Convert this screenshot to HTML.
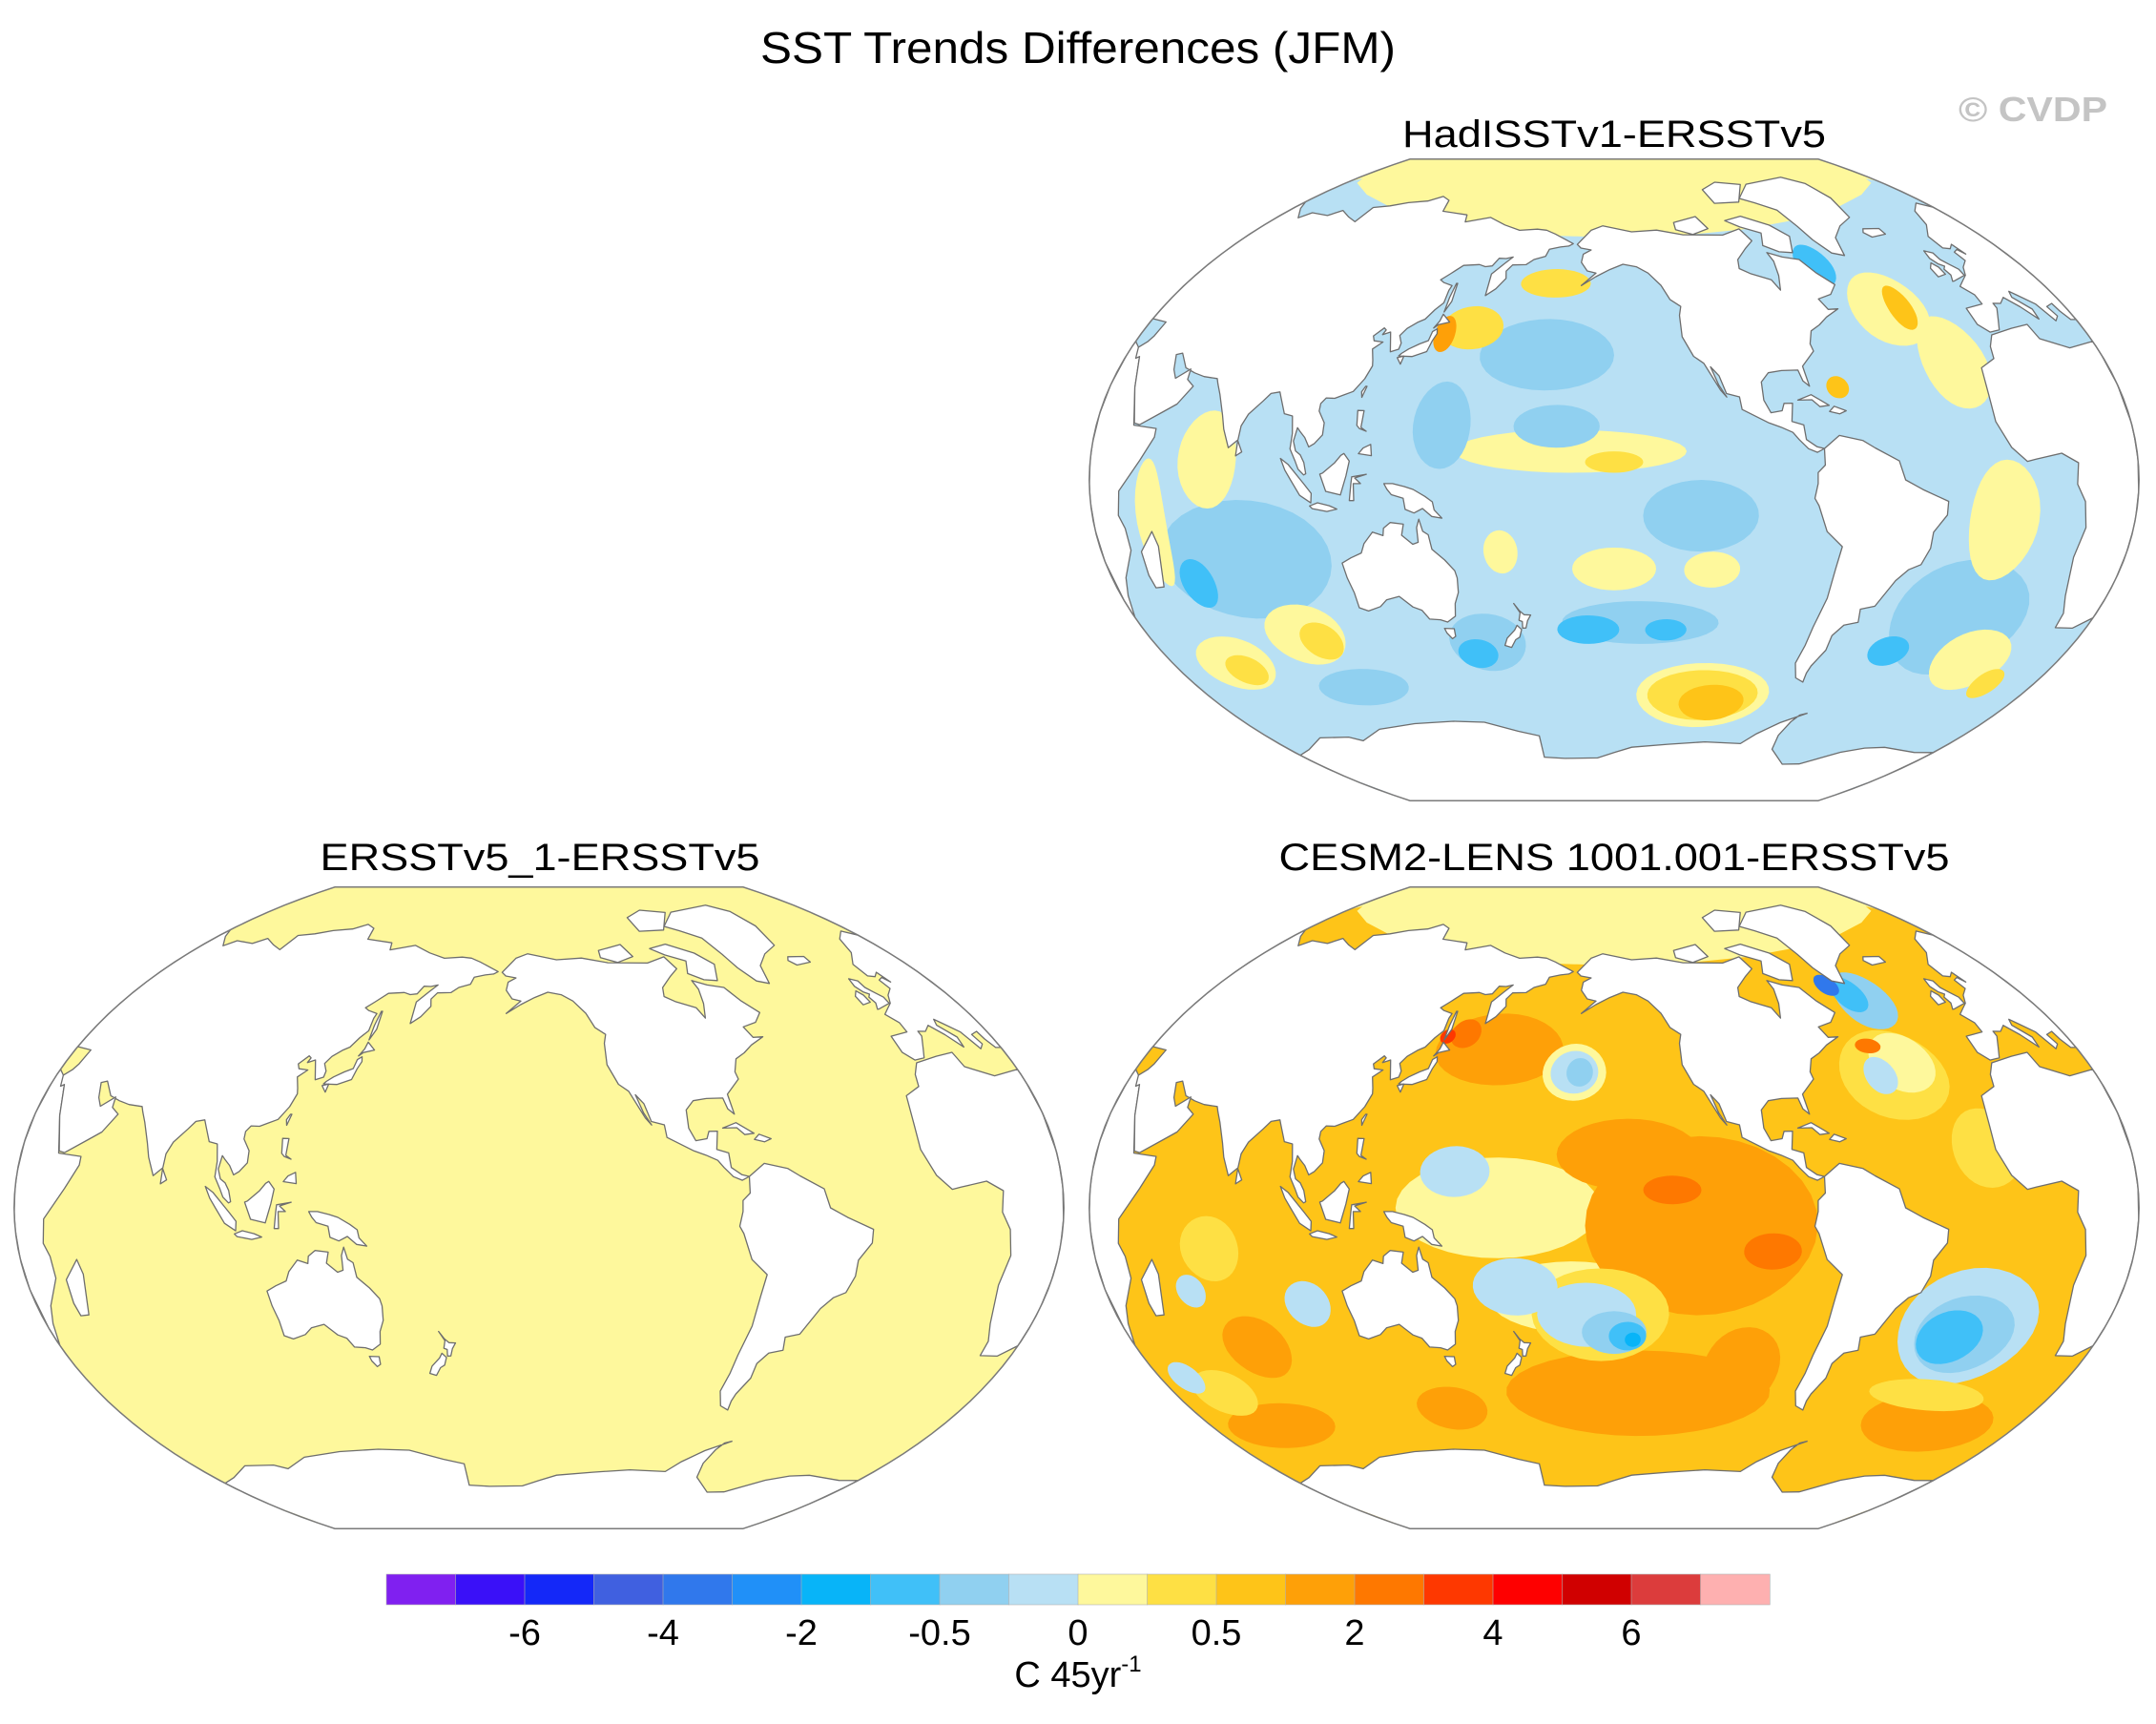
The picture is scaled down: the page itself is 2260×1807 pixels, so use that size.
<!DOCTYPE html>
<html><head><meta charset="utf-8"><title>SST Trends Differences (JFM)</title>
<style>
html,body{margin:0;padding:0;background:#fff;}
svg{display:block;font-family:"Liberation Sans",Arial,sans-serif;}
</style></head>
<body>
<svg id="fig" width="2260" height="1807" viewBox="0 0 2260 1807" xmlns="http://www.w3.org/2000/svg">
<text x="1130" y="66" font-size="46" text-anchor="middle" textLength="666" lengthAdjust="spacingAndGlyphs">SST Trends Differences (JFM)</text>
<text x="2131" y="127" font-size="36" font-weight="bold" fill="#c4c4c4" text-anchor="middle" textLength="156" lengthAdjust="spacingAndGlyphs">© CVDP</text>
<text x="1692" y="154" font-size="40" text-anchor="middle" textLength="444" lengthAdjust="spacingAndGlyphs">HadISSTv1-ERSSTv5</text>
<text x="566" y="912" font-size="40" text-anchor="middle" textLength="461" lengthAdjust="spacingAndGlyphs">ERSSTv5_1-ERSSTv5</text>
<text x="1692" y="912" font-size="40" text-anchor="middle" textLength="703" lengthAdjust="spacingAndGlyphs">CESM2-LENS 1001.001-ERSSTv5</text>
<g id="maps"></g>
<g id="colorbar"></g>
<text x="1130" y="1768" font-size="38" text-anchor="middle">C 45yr<tspan font-size="24" dy="-16">-1</tspan></text>
</svg>
<script>
// ---- colour scale ----
const levels=[-7,-6,-5,-4,-3,-2,-1,-0.5,-0.25,0,0.25,0.5,1,2,3,4,5,6,7];
const colors=["#8020f0","#3a10f8","#1428f8","#4060e0","#3078ec","#2090f8","#08b4f8","#40c0f8","#90d0f0","#b8e0f4","#fef89c","#fee044","#fec418","#fea008","#fe7800","#fe3800","#fe0000","#d00000","#dc3c3c","#feb0b0"];
const tickLabels=["-6","-4","-2","-0.5","0","0.5","2","4","6"];
const tickIndex=[2,4,6,8,10,12,14,16,18];

// ---- HadISST blobs ----
const hadLon=[210,-175,155,145,-175,-165,-150,150,-150,-115,170,-140,-160,-130,-110,-110,-105,160,155,80,70,50,90,95,55,57,60,100,-40,-25,-60,-35,-70,-20,-15,-5,10,-40,-120,-170];
const hadLat=[90,35,42,40,55,8,5,15,-25,-25,-20,-40,-42,-42,-60,-60,-62,-45,-48,-20,5,-10,-40,-42,-45,-47,-25,-55,45,30,58,45,25,-35,-10,-45,-50,-45,-10,15];
const hadRlon=[200,25,12,4,15,40,10,10,15,10,6,30,12,8,30,25,15,15,8,30,10,5,15,8,15,8,6,20,15,12,8,5,4,25,12,15,6,8,20,15];
const hadRlat=[22,10,6,5,4,6,3,12,6,5,6,6,4,3,9,7,5,8,4,15,12,15,8,5,7,4,6,5,10,12,6,6,3,15,15,8,4,4,10,6];
const hadVal=[0.1,-0.4,0.4,1.5,0.4,0.1,0.4,-0.4,0.1,0.1,0.1,-0.4,-0.75,-0.75,0.1,0.4,0.75,-0.4,-0.75,-0.4,0.1,0.1,0.1,0.4,0.1,0.4,-0.75,-0.4,0.1,0.1,-0.75,0.75,0.75,-0.4,0.1,0.1,0.4,-0.75,-0.4,-0.4];

// ---- CESM2 blobs ----
const cesLon=[210,170,-165,-120,-145,-140,-100,165,140,60,75,-130,-95,150,143,-155,155,175,-160,-150,-145,-143,-165,-165,-163,70,60,100,50,40,-45,-40,-50,-40,-45,-52,-50,-20,-20,-20,-25,-10,-20];
const cesLat=[90,0,-25,-5,15,-52,-45,44,-55,-55,-35,5,-12,48,47,-30,10,-22,-30,-35,-36,-37,38,38,38,-10,-20,-25,-45,-40,35,38,35,55,57,60,43,15,-30,-32,-33,-55,-48];
const cesRlon=[200,35,30,40,25,55,15,25,15,25,12,10,10,6,3,25,12,15,18,12,7,3,12,9,5,10,5,8,12,6,20,12,6,12,7,5,5,12,25,18,12,30,25];
const cesRlat=[22,14,10,25,10,12,12,10,6,6,8,4,5,4,2,13,7,8,9,6,4,2,8,6,4,8,4,6,6,4,12,8,5,8,5,3,2,10,15,10,7,8,4];
const cesVal=[0.1,0.1,0.1,1.5,1.5,1.5,1.5,1.5,1.5,1.5,1.5,2.5,2.5,2.5,3.5,0.4,-0.1,-0.1,-0.1,-0.4,-0.75,-1.5,0.1,-0.1,-0.4,0.4,-0.1,-0.1,0.4,-0.1,0.4,0.1,-0.1,-0.4,-0.75,-3.5,2.5,0.4,-0.1,-0.4,-0.75,1.5,0.4];

// ---- ERSST blobs (uniform small positive) ----
const ersLon=[], ersLat=[], ersRlon=[], ersRlat=[], ersVal=[];

// ---- land outlines (lon, lat) ----
const land={
 northAmerica:[[-168,66],[-162,70],[-156,71.3],[-141,69.6],[-128,70],[-115,68.5],[-95,68],[-85,69.5],[-82,66],[-87,64],[-93,61],[-94,58.5],[-90,57],[-82,55],[-80,52],[-78,56],[-77,60],[-78,62.5],[-72,61],[-65,60],[-61,56],[-56,52.5],[-60,50],[-66,49],[-64,46],[-60,46],[-66,44],[-70,42],[-74,40.5],[-76,37],[-75.5,35],[-81,31],[-80,25.5],[-82,27],[-83,30],[-89,30],[-94,29.5],[-97,27],[-97,22],[-95,18.5],[-91,19],[-90,21],[-87,21],[-88,16],[-84,15],[-83.5,11],[-80,9],[-77.5,8.5],[-80,7.5],[-83,8.5],[-86,11],[-88,13],[-92,14.5],[-96,15.7],[-105,19.5],[-105.5,23],[-110,24],[-112,29],[-114.7,31.5],[-112.5,26.5],[-110,23],[-112,25],[-114,28],[-117,32.5],[-120.5,34.5],[-124,40],[-124,46],[-123,48.5],[-127,50.5],[-130,54.5],[-135,58],[-140,59.8],[-146,60.5],[-152,59],[-158,57],[-164,54.5],[-158,58],[-162,58.6],[-165,61],[-164.5,63.3],[-161,64.5],[-166,65]],
 greenland:[[-73,78],[-60,82],[-30,83.5],[-20,81],[-18,76],[-22,70],[-32,68],[-40,65],[-43,60],[-48,61],[-52,65],[-54,69],[-57,74],[-66,76.5]],
 baffin:[[-80,73],[-68,70],[-62,66.5],[-66,62],[-72,62.5],[-78,64.5],[-75,68],[-84,70],[-90,72]],
 ellesmere:[[-90,77],[-75,77],[-64,82],[-80,83],[-92,81]],
 victoria:[[-118,72],[-105,73.5],[-101,70],[-110,68.5],[-118,70]],
 southAmerica:[[-77.5,8.5],[-72,12],[-64,10.5],[-60,8.5],[-52,5],[-50,0],[-44,-2.5],[-35,-5.5],[-35,-9],[-39,-13.5],[-39,-17.7],[-41,-22],[-45,-23.5],[-48.5,-26.5],[-53,-33.5],[-58,-34.5],[-57,-38],[-62,-39],[-65,-42],[-65,-46],[-68,-50.5],[-68.5,-52.5],[-68,-55],[-72,-54],[-75,-50],[-74,-45],[-73.5,-40],[-71.5,-32],[-71,-24],[-70,-18],[-76,-14],[-79.5,-7],[-81,-5],[-80,-1],[-80,2],[-77.5,4]],
 africa:[[-17,21],[-16,28],[-10,30],[-9,33],[-6,35.8],[3,36.8],[10,37.2],[11,33.5],[20,30.5],[30,31.2],[32.5,30],[35,28],[39,21],[43,12.5],[51,12],[51,10],[47,4.5],[40,-2.5],[39,-8],[40.5,-11],[40.5,-16],[35,-22],[32.5,-26],[30,-31],[25,-34],[18.5,-34.5],[18,-31],[15,-27],[12,-18],[13.5,-11],[12,-5],[9,-1],[9.5,4],[4,6.3],[-5,5],[-8,4.5],[-13,8],[-17,14.5]],
 madagascar:[[44,-25],[47,-25],[50.5,-15.5],[49.5,-12],[44,-16.5],[43.5,-22]],
 eurasia:[[-9,43],[-9,38.7],[-6,36.5],[-2,36.8],[0,39],[3,42],[3,43.3],[6,43],[9,44.3],[12.5,41.5],[16,38],[16.5,40.5],[12.5,44],[13.5,45.5],[15,44.5],[19.5,41.5],[22,37],[24,38],[23,40.5],[26,41],[26.5,39],[28,36.7],[36,36.5],[35.5,33],[34.5,31.5],[32.5,30],[34,27.5],[35,28],[39,21],[43,13],[45,12.7],[52,16],[56,18],[59.5,22.5],[56.5,24],[56,26.5],[52,24],[50,26],[48,29.5],[50,30],[54,26.7],[58,25.7],[62,25],[67,24.8],[68,23.5],[70,21],[73,16],[74.5,12.5],[77,8],[80,10],[80.3,13.5],[82,16.5],[86,20],[88,22],[91,22.5],[92,21],[94.5,17],[97.5,16.5],[98.5,12],[98.3,8],[100.3,5],[101.5,2.8],[103.5,1.3],[104.2,1.6],[103.4,4.5],[102,6.5],[100.3,7.5],[99.2,10],[100,13.5],[101,12.6],[103,11],[104.7,8.6],[106.5,9.5],[109,11.8],[109,15],[106.5,18],[106.5,20],[108,21.5],[111,21.5],[114,22.5],[117,23.5],[120,27],[121.5,30.5],[121,32],[119.5,35],[122.5,37],[119,37.2],[118,38.5],[121,40.8],[122,40.3],[121.3,39],[124,39.8],[125,37.8],[126.5,34.5],[129.3,35.3],[129.5,37],[128,39],[129.8,41],[133,42.8],[135.5,43.8],[138,46.5],[140.5,48.5],[140.5,52],[141,53.3],[137,54],[135,54.7],[138,56.5],[142,59],[149,59.5],[152,59],[155,59.3],[156.8,61.5],[160,61.5],[163,62],[160,60],[156,57],[156.5,51],[160,53],[163,56],[162,58],[164,59.8],[170,60],[173,61.5],[178,62.5],[179,64.5],[184,65.2],[188,65.5],[190,66.2],[187,67],[180,68.8],[175,69.8],[170,70],[161,69.5],[152,70.8],[142,72.7],[130,71],[128,73],[113,73.5],[110,76.7],[104,77.7],[98,76],[88,75],[80,73.5],[72,72.5],[72.5,68],[66,69],[58,70.5],[54,68.5],[44,68.5],[41,66.5],[34,69],[25,71],[17,69],[12,65],[5,62],[5,58.5],[8,58],[11,59],[12,56],[10.5,57.5],[8,57],[8.5,54.5],[4.5,53],[2,51],[-1.5,49.7],[-4.5,48.5],[-1.5,46],[-1.5,43.5]],
 britain:[[-5,50],[1.5,51],[1.7,52.7],[-0.5,54.5],[-2,55.8],[-2,57.7],[-5,58.6],[-6,56.5],[-4.8,54.8],[-3,54],[-4.5,53.3],[-4,51.6],[-5.7,50]],
 ireland:[[-6,52],[-6,54],[-7.5,55.3],[-10,54],[-10,51.6]],
 iceland:[[-22,64],[-14,64.3],[-14,66],[-22,66.5],[-24,65.5]],
 honshu:[[130,33.5],[135,33.5],[140,35],[141,38],[142,40],[141.5,41.3],[140,40.5],[139.5,38],[136.5,37],[133,35.5],[130.8,34.2]],
 kyushu:[[129.7,33],[131.5,31.3],[132,33.5]],
 hokkaido:[[140,41.5],[141.5,42.5],[145.5,43.3],[142,45.4],[141.5,43.5]],
 sakhalin:[[142,46],[143.5,49],[143,54],[142.5,54],[142,50]],
 taiwan:[[120.5,22],[121.5,25],[121,25],[120,23.5]],
 luzon:[[120,18.5],[122.2,18.5],[122,14],[124,13],[121.5,13.7],[120.5,14.5]],
 mindanao:[[122,7],[126.5,6.5],[126,9.5],[123.5,8.5]],
 borneo:[[109,1.5],[111,-3],[116,-4],[118,1],[119,5],[117,7],[116,6.5],[114,4.5],[110,1.8]],
 sumatra:[[95.3,5.5],[98,4],[103.5,-1],[106,-3.5],[105.7,-6],[102,-4],[99,0],[97,2.5]],
 java:[[105.2,-6.8],[108,-6],[112,-6.8],[114.5,-7.7],[111,-8.3],[106,-7.5]],
 sulawesi:[[119,-5.5],[120.5,-5.5],[120.5,-1],[123,-1],[121,0.5],[125,1.5],[120,0.8],[119.7,-1]],
 newGuinea:[[131,-1],[134,-1],[138,-1.8],[141,-2.6],[145,-4.5],[147.5,-6],[148,-8.2],[150.5,-10.5],[147,-10],[144,-7.8],[141,-9],[138,-8],[137.5,-5],[133.5,-4],[132,-2.5]],
 australia:[[113.5,-22],[114,-26],[115,-30],[115,-34],[118,-35],[123,-34],[126,-32.3],[131,-31.5],[135,-34.5],[138,-35.5],[140,-38],[144,-38.3],[146.5,-39],[150,-37.5],[151,-34],[153,-31],[153.5,-27],[153,-25],[150,-22],[146,-19],[145.3,-15],[143.5,-14],[142.5,-10.7],[141.5,-13],[141.5,-17],[139.5,-17.5],[136,-15],[137,-12],[132.5,-11.5],[130,-13],[129.5,-15],[126,-14],[122.5,-17],[121,-19.5],[117,-20.7]],
 tasmania:[[144.6,-40.7],[148.3,-40.9],[148,-43],[146.5,-43.6],[145,-42]],
 nzNorth:[[172.7,-34.4],[174.5,-36.5],[176,-37.6],[178.5,-37.7],[177,-39.3],[176,-41.3],[174.7,-41.3],[175,-39.5],[173.8,-39.1],[174.6,-37]],
 nzSouth:[[172.7,-40.5],[174.2,-41.7],[173,-43.8],[171.2,-44.5],[169,-46.6],[166.5,-46],[168,-44],[171.5,-41.8]],
 sriLanka:[[79.8,6],[81.8,7],[80,9.8]],
 cuba:[[-85,21.8],[-80,23.2],[-74.2,20.2],[-77.5,19.9],[-80,21.8]],
 hispaniola:[[-74.4,18.5],[-72.5,19.9],[-68.5,18.6],[-71,17.8]],
 antarctica:[[-180,-78],[-160,-78],[-150,-76.5],[-140,-75],[-120,-74],[-100,-73],[-80,-73],[-75,-70],[-67,-66.5],[-57,-63.3],[-60,-64],[-62,-66],[-63,-70],[-60,-74],[-45,-78],[-35,-77.5],[-20,-73],[-10,-71],[0,-70],[20,-70],[40,-69],[55,-66.5],[70,-67.5],[75,-69],[90,-66.5],[110,-66],[130,-66.2],[145,-67],[160,-70],[170,-71.5],[168,-77.5],[180,-78],[180,-90],[-180,-90]]
};

const NS="http://www.w3.org/2000/svg";
const LON0=210, K=214, C1=2/Math.PI, D=Math.PI/180;
function wk(lam,phi){
  const a=Math.acos(Math.cos(phi)*Math.cos(lam/2));
  const s=a<1e-9?1:Math.sin(a)/a;
  return [0.5*(lam*C1+2*Math.cos(phi)*Math.sin(lam/2)/s), 0.5*(phi+Math.sin(phi)/s)];
}
function proj(m,dl,lat){
  dl=Math.max(-180,Math.min(180,dl)); lat=Math.max(-90,Math.min(90,lat));
  const p=wk(dl*D,lat*D);
  return [m.cx+K*p[0], m.cy-K*p[1]];
}
function polyPaths(m,pts,closed){
  if(closed===undefined) closed=true;
  const out=[];
  for(const k of [-720,-360,0,360,720]){
    const dl=pts.map(p=>p[0]-LON0+k);
    if(!dl.some(v=>v>=-180&&v<=180)) continue;
    if(dl.every(v=>v<=-180)||dl.every(v=>v>=180)) continue;
    let d="";
    pts.forEach((p,i)=>{const q=proj(m,dl[i],p[1]);d+=(i?"L":"M")+q[0].toFixed(1)+","+q[1].toFixed(1);});
    out.push(d+(closed?"Z":""));
  }
  return out.join("");
}
function colorOf(v){let i=0;while(i<levels.length&&v>=levels[i])i++;return colors[i];}
function el(tag,attrs,parent){const e=document.createElementNS(NS,tag);for(const a in attrs)e.setAttribute(a,attrs[a]);parent.appendChild(e);return e;}
function outline(m){
  let d="";const n=60;
  for(let i=0;i<=n;i++){const lat=-90+180*i/n;const q=proj(m,180,lat);d+=(i?"L":"M")+q[0].toFixed(1)+","+q[1].toFixed(1);}
  for(let i=0;i<=n;i++){const lat=90-180*i/n;const q=proj(m,-180,lat);d+="L"+q[0].toFixed(1)+","+q[1].toFixed(1);}
  return d+"Z";
}
function blobPts(lon,lat,rl,rb){const p=[];for(let t=0;t<36;t++){const a=t/36*2*Math.PI;p.push([lon+rl*Math.cos(a),lat+rb*Math.sin(a)]);}return p;}

const panels=[
 {id:"hadisst",cx:1692,cy:503,base:-0.1,lon:hadLon,lat:hadLat,rl:hadRlon,rb:hadRlat,val:hadVal},
 {id:"ersst",cx:565,cy:1266,base:0.1,lon:ersLon,lat:ersLat,rl:ersRlon,rb:ersRlat,val:ersVal},
 {id:"cesm2",cx:1692,cy:1266,base:0.75,lon:cesLon,lat:cesLat,rl:cesRlon,rb:cesRlat,val:cesVal}
];
const maps=document.getElementById("maps");
const defs=el("defs",{},maps);
panels.forEach(m=>{
  const ol=outline(m);
  const cp=el("clipPath",{id:"clip-"+m.id},defs);
  el("path",{d:ol},cp);
  const g=el("g",{"clip-path":"url(#clip-"+m.id+")"},maps);
  
  
  const bg=el("path",{d:ol,fill:colorOf(m.base)},g);
  
  
  for(let i=0;i<m.val.length;i++){
    const b=el("path",{d:polyPaths(m,blobPts(m.lon[i],m.lat[i],m.rl[i],m.rb[i])),fill:colorOf(m.val[i])},g);
    
    
  }
  for(const name in land){
    if(name==="antarctica"){
      const f=el("path",{d:polyPaths(m,land[name]),fill:"#fff",stroke:"none"},g);
      
      
      const c=el("path",{d:polyPaths(m,land[name].slice(0,-2),false),fill:"none",stroke:"#6e6e6e","stroke-width":"1.3"},g);
      
      
      continue;
    }
    const l=el("path",{d:polyPaths(m,land[name]),fill:"#fff",stroke:"#6e6e6e","stroke-width":"1.3","stroke-linejoin":"round"},g);
    
    
  }
  const o=el("path",{d:ol,fill:"none",stroke:"#7a7a7a","stroke-width":"1.5"},maps);
  
  
});

// colorbar
const cb=document.getElementById("colorbar");
const X0=405,X1=1855,Y0=1650,H=32,W=(X1-X0)/colors.length;
colors.forEach((c,i)=>{
  const r=el("rect",{x:(X0+i*W).toFixed(2),y:Y0,width:(W+0.3).toFixed(2),height:H,fill:c,stroke:"#b0b0b0","stroke-width":"0.6"},cb);
  
  
});
tickLabels.forEach((t,i)=>{
  const tx=el("text",{x:(X0+tickIndex[i]*W).toFixed(1),y:1724,"font-size":"38","text-anchor":"middle"},cb);
  tx.textContent=t;
  
  
});
</script>
</body></html>
